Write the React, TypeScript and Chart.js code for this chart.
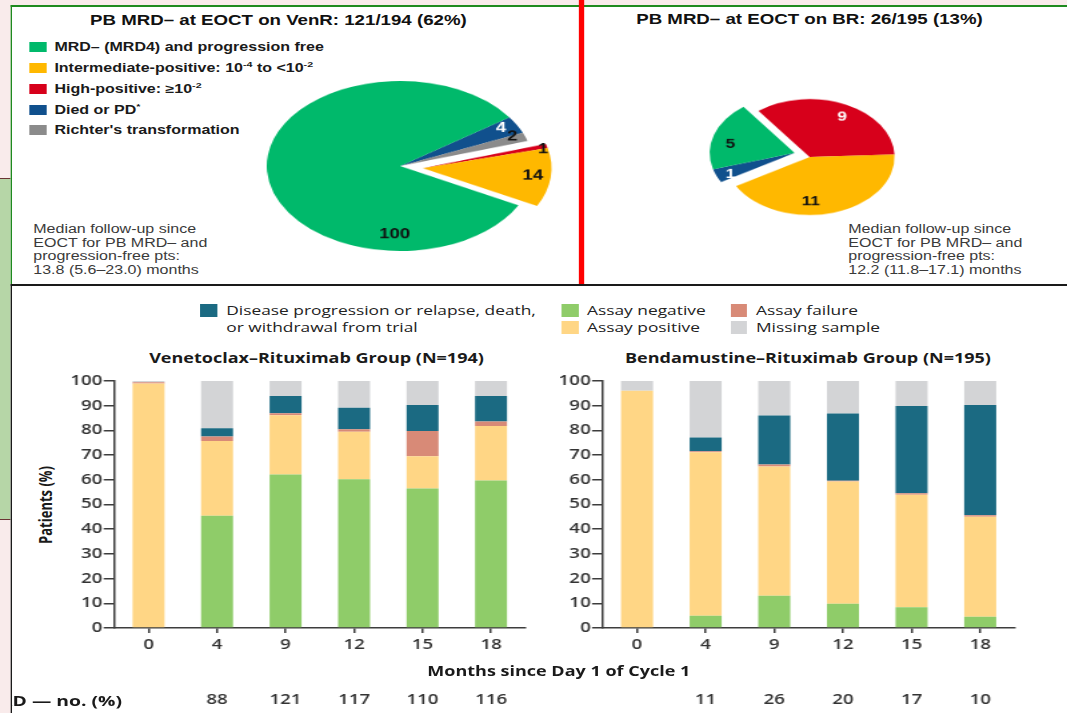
import React, { useEffect, useRef } from 'react';
import { Chart, registerables } from 'chart.js';

Chart.register(...registerables);

// The reference is a 4:3 slide stretched to 16:9, so the scene is built 800px wide and stretched.
const SX = 1067 / 800;
const X = (v: number) => v / SX;

const ARIAL = '"Liberation Sans", Arial, sans-serif';
const SANS = '"Open Sans", "Noto Sans", sans-serif';
const PINK = '#f9ebeb';

// ---------- top: pie charts ----------
const VENR_SLICES = ['Died or PD*', "Richter's transformation", 'High-positive', 'Intermediate-positive', 'MRD– (MRD4) and progression free'];
const VENR_VALUES = [4, 2, 1, 14, 100];
const VENR_COLORS = ['#10508d', '#8b8b8b', '#d7001b', '#ffb800', '#00b96b'];
const VENR_EXPLODED = [false, false, true, true, false];
const VENR_LABEL_FRAC = [0.36, 0.15, 1.2, 0.49, 0.22];
const VENR_LABEL_RADIUS = [0.88, 0.91, 0.96, 0.86, 0.81];
const VENR_LABEL_COLOR = ['#ffffff', '#111111', '#111111', '#111111', '#111111'];

const BR_SLICES = ['High-positive', 'Intermediate-positive', 'Died or PD*', 'MRD– (MRD4) and progression free'];
const BR_VALUES = [9, 11, 1, 5];
const BR_COLORS = ['#d7001b', '#ffb800', '#10508d', '#00b96b'];
const BR_EXPLODED = [false, false, true, true];
const BR_LABEL_FRAC = [0.53, 0.6, 0.3, 0.4];
const BR_LABEL_RADIUS = [0.79, 0.77, 0.84, 0.77];
const BR_LABEL_COLOR = ['#ffffff', '#111111', '#ffffff', '#111111'];

// ---------- bottom: stacked bars ----------
const MONTHS = ['0', '4', '9', '12', '15', '18'];

const VEN_NEGATIVE = [0, 45.4, 62.1, 60.2, 56.5, 59.7];
const VEN_POSITIVE = [99.0, 30.3, 24.0, 19.3, 13.0, 22.1];
const VEN_FAILURE = [0.5, 1.8, 0.8, 1.0, 10.3, 1.8];
const VEN_PROGRESSION = [0, 3.4, 7.0, 8.7, 10.5, 10.3];
const VEN_MISSING = [0.5, 19.1, 6.1, 10.8, 9.7, 6.1];
const VEN_MRD_NO = [null, 88, 121, 117, 110, 116];

const BEN_NEGATIVE = [0, 5.0, 13.1, 9.8, 8.4, 4.6];
const BEN_POSITIVE = [96.1, 66.2, 52.3, 49.5, 45.5, 40.4];
const BEN_FAILURE = [0, 0.4, 0.8, 0.3, 0.7, 0.6];
const BEN_PROGRESSION = [0, 5.5, 19.8, 27.2, 35.3, 44.7];
const BEN_MISSING = [3.9, 22.9, 14.0, 13.2, 10.1, 9.7];
const BEN_MRD_NO = [null, 11, 26, 20, 17, 10];

const C_PD = '#1b6a82';
const C_NEG = '#8fcc69';
const C_FAIL = '#d88a77';
const C_POS = '#ffd685';
const C_MISS = '#d3d4d6';
const AXIS = '#3d3d3d';

type PieProps = {
  labels: string[]; values: number[]; colors: string[]; visible: boolean[];
  rotation: number; radius: number; size: number; shiftX: number; shiftY: number;
  labelFrac: number[]; labelRadius: number[]; labelColor: string[]; labelFont: string;
  squash: number; cx: number; cy: number;
};

function PieLayer(p: PieProps) {
  const ref = useRef<HTMLCanvasElement>(null);
  useEffect(() => {
    const labelPlugin = {
      id: 'sliceLabels',
      afterDatasetsDraw(chart: any) {
        const ctx = chart.ctx;
        chart.getDatasetMeta(0).data.forEach((arc: any, i: number) => {
          if (!p.visible[i]) return;
          const { x, y, startAngle, endAngle, outerRadius } = arc.getProps(['x', 'y', 'startAngle', 'endAngle', 'outerRadius'], true);
          const a = startAngle + p.labelFrac[i] * (endAngle - startAngle);
          const r = p.labelRadius[i] * outerRadius;
          ctx.save();
          ctx.translate(x + Math.cos(a) * r, y + Math.sin(a) * r);
          ctx.scale(1, 1 / p.squash);
          ctx.font = p.labelFont;
          ctx.fillStyle = p.labelColor[i];
          ctx.textAlign = 'center';
          ctx.textBaseline = 'middle';
          ctx.fillText(String(p.values[i]), 0, 0);
          ctx.restore();
        });
      },
    };
    const chart = new Chart(ref.current as HTMLCanvasElement, {
      type: 'pie',
      data: {
        labels: p.labels,
        datasets: [{
          data: p.values,
          backgroundColor: p.colors.map((c, i) => (p.visible[i] ? c : 'rgba(0,0,0,0)')),
          borderWidth: 0,
          radius: p.radius,
        } as any],
      },
      options: {
        responsive: false,
        animation: false,
        rotation: p.rotation,
        events: [],
        layout: {
          padding: {
            left: Math.max(0, 2 * p.shiftX), right: Math.max(0, -2 * p.shiftX),
            top: Math.max(0, 2 * p.shiftY), bottom: Math.max(0, -2 * p.shiftY),
          },
        },
        plugins: { legend: { display: false }, tooltip: { enabled: false } },
      } as any,
      plugins: [labelPlugin],
    });
    return () => chart.destroy();
  }, []);
  return (
    <canvas
      ref={ref}
      width={p.size}
      height={p.size}
      style={{
        position: 'absolute', left: p.cx - p.size / 2, top: p.cy - p.size / 2,
        width: p.size, height: p.size, transform: `scaleY(${p.squash})`, transformOrigin: '50% 50%',
      }}
    />
  );
}

type BarProps = {
  left: number; width: number; yWidth: number; padRight: number;
  negative: number[]; positive: number[]; failure: number[]; progression: number[]; missing: number[];
  counts: (number | null)[];
};

function StackedBars(p: BarProps) {
  const ref = useRef<HTMLCanvasElement>(null);
  useEffect(() => {
    const tickFont = { family: SANS, size: 14, weight: '600' as any };
    const common = { barPercentage: 0.467, categoryPercentage: 1, borderWidth: 0, stack: 's' };
    const chart = new Chart(ref.current as HTMLCanvasElement, {
      type: 'bar',
      data: {
        labels: MONTHS,
        datasets: [
          { label: 'Assay negative', data: p.negative, backgroundColor: C_NEG, ...common },
          { label: 'Assay positive', data: p.positive, backgroundColor: C_POS, ...common },
          { label: 'Assay failure', data: p.failure, backgroundColor: C_FAIL, ...common },
          { label: 'Disease progression or relapse, death, or withdrawal from trial', data: p.progression, backgroundColor: C_PD, ...common },
          { label: 'Missing sample', data: p.missing, backgroundColor: C_MISS, ...common },
        ],
      },
      options: {
        responsive: false,
        animation: false,
        events: [],
        layout: { padding: { top: 11, right: p.padRight, left: 0, bottom: 0 } },
        plugins: { legend: { display: false }, tooltip: { enabled: false } },
        scales: {
          x: {
            stacked: true,
            offset: true,
            grid: { display: true, drawOnChartArea: false, offset: false, tickLength: 5, color: AXIS, lineWidth: 1.5 },
            border: { color: AXIS, width: 1.5 },
            ticks: {
              color: '#333',
              font: { ...tickFont, lineHeight: '27.5px' },
              padding: -1.5,
              maxRotation: 0,
              autoSkip: false,
              callback: (_v: any, i: number) => [MONTHS[i], '', p.counts[i] == null ? '' : String(p.counts[i])],
            },
            afterFit: (s: any) => { s.height = 85; },
          },
          y: {
            stacked: true,
            min: 0,
            max: 100,
            grid: { display: true, drawOnChartArea: false, tickLength: 8, color: AXIS, lineWidth: 1.5 },
            border: { color: AXIS, width: 1.5 },
            ticks: { stepSize: 10, padding: 1, color: '#333', font: tickFont },
            afterFit: (s: any) => { s.width = p.yWidth; },
          },
        },
      } as any,
    });
    return () => chart.destroy();
  }, []);
  return (
    <canvas ref={ref} width={p.width} height={343}
      style={{ position: 'absolute', left: p.left, top: 370, width: p.width, height: 343 }} />
  );
}

const abs = (left: number, top: number, extra: React.CSSProperties = {}): React.CSSProperties => ({
  position: 'absolute', left, top, whiteSpace: 'nowrap', ...extra,
});

const sup: React.CSSProperties = { fontSize: 8, verticalAlign: 'super', lineHeight: 0 };

const TOP_LEGEND: { color: string; text: React.ReactNode }[] = [
  { color: '#00b96b', text: 'MRD– (MRD4) and progression free' },
  { color: '#ffb800', text: <>Intermediate-positive: 10<span style={sup}>-4</span> to &lt;10<span style={sup}>-2</span></> },
  { color: '#d7001b', text: <>High-positive: ≥10<span style={sup}>-2</span></> },
  { color: '#10508d', text: <>Died or PD<span style={sup}>*</span></> },
  { color: '#8b8b8b', text: "Richter's transformation" },
];
const TOP_LEGEND_Y = [46.7, 67.7, 88.7, 110, 130.3];

function Median({ x, lines }: { x: number; lines: string[] }) {
  return (
    <div style={abs(X(x), 223, { font: `12px ${ARIAL}`, lineHeight: '13.5px', color: '#3a3a3a' })}>
      {lines.map((l, i) => <div key={i}>{l}</div>)}
    </div>
  );
}

function LegendSwatch({ x, y, color, text }: { x: number; y: number; color: string; text: React.ReactNode }) {
  return (
    <>
      <div style={abs(X(x), y - 6.5, { width: X(17), height: 13, background: color })} />
      <div style={abs(X(x + 25.5), y - 9, { font: `13px ${SANS}`, lineHeight: '18px', color: '#222' })}>{text}</div>
    </>
  );
}

export default function App() {
  useEffect(() => { document.body.style.margin = '0'; }, []);
  return (
    <div style={{ position: 'fixed', left: 0, top: 0, width: 800, height: 713, transform: `scaleX(${SX})`, transformOrigin: '0 0', background: PINK, overflow: 'hidden' }}>
      {/* left decorative strip */}
      <div style={abs(0, 178, { width: X(11), height: 342, background: '#b6d6a7', borderTop: '1px solid #6b3434', borderBottom: '1px solid #6b3434', boxSizing: 'border-box' })} />

      {/* top panel */}
      <div style={abs(X(11), 5, { width: 800 - X(11), height: 279, background: '#fff', borderTop: '2px solid #1f8a1f', borderLeft: `${X(2)}px solid #1f8a1f`, boxSizing: 'border-box' })} />
      <div style={abs(X(579.3), 0, { width: X(5), height: 284, background: '#ff0000' })} />

      <div style={abs(X(278.4), 11, { transform: 'translateX(-50%)', font: `bold 14px ${ARIAL}`, lineHeight: '18px', color: '#111' })}>
        PB MRD– at EOCT on VenR: 121/194 (62%)
      </div>
      <div style={abs(X(809.5), 10, { transform: 'translateX(-50%)', font: `bold 14px ${ARIAL}`, lineHeight: '18px', color: '#111' })}>
        PB MRD– at EOCT on BR: 26/195 (13%)
      </div>

      {TOP_LEGEND.map((it, i) => (
        <React.Fragment key={i}>
          <div style={abs(X(29.6), TOP_LEGEND_Y[i] - 5, { width: X(16.6), height: 10, background: it.color })} />
          <div style={abs(X(54.4), TOP_LEGEND_Y[i] - 8, { font: `bold 12px ${ARIAL}`, lineHeight: '16px', color: '#1a1a1a' })}>{it.text}</div>
        </React.Fragment>
      ))}

      <Median x={33.3} lines={['Median  follow-up  since', 'EOCT for PB MRD– and', 'progression-free pts:', '13.8 (5.6–23.0) months']} />
      <Median x={848.3} lines={['Median  follow-up  since', 'EOCT for PB MRD– and', 'progression-free pts:', '12.2 (11.8–17.1) months']} />

      {/* VenR pie: body + exploded slices */}
      <PieLayer labels={VENR_SLICES} values={VENR_VALUES} colors={VENR_COLORS} visible={VENR_EXPLODED.map(e => !e)}
        rotation={55} radius={100} size={260} shiftX={0} shiftY={0}
        labelFrac={VENR_LABEL_FRAC} labelRadius={VENR_LABEL_RADIUS} labelColor={VENR_LABEL_COLOR}
        labelFont={`bold 14px ${ARIAL}`} squash={0.85} cx={X(399.5)} cy={166} />
      <PieLayer labels={VENR_SLICES} values={VENR_VALUES} colors={VENR_COLORS} visible={VENR_EXPLODED}
        rotation={55} radius={96.5} size={260} shiftX={17} shiftY={2.5}
        labelFrac={VENR_LABEL_FRAC} labelRadius={VENR_LABEL_RADIUS} labelColor={VENR_LABEL_COLOR}
        labelFont={`bold 14px ${ARIAL}`} squash={0.85} cx={X(399.5)} cy={166} />

      {/* BR pie */}
      <PieLayer labels={BR_SLICES} values={BR_VALUES} colors={BR_COLORS} visible={BR_EXPLODED.map(e => !e)}
        rotation={-37} radius={63.7} size={180} shiftX={0} shiftY={0}
        labelFrac={BR_LABEL_FRAC} labelRadius={BR_LABEL_RADIUS} labelColor={BR_LABEL_COLOR}
        labelFont={`bold 13px ${ARIAL}`} squash={0.91} cx={X(810)} cy={157} />
      <PieLayer labels={BR_SLICES} values={BR_VALUES} colors={BR_COLORS} visible={BR_EXPLODED}
        rotation={-37} radius={63.7} size={180} shiftX={-11.2} shiftY={-4.4}
        labelFrac={BR_LABEL_FRAC} labelRadius={BR_LABEL_RADIUS} labelColor={BR_LABEL_COLOR}
        labelFont={`bold 13px ${ARIAL}`} squash={0.91} cx={X(810)} cy={157} />

      {/* bottom panel */}
      <div style={abs(X(11), 284, { width: 800 - X(11), height: 429, background: '#fff', borderTop: '2.5px solid #1a1a1a', borderLeft: `${X(2)}px solid #1a1a1a`, boxSizing: 'border-box' })} />

      <LegendSwatch x={200.7} y={310} color={C_PD} text="Disease progression or relapse, death," />
      <div style={abs(X(226.2), 318, { font: `13px ${SANS}`, lineHeight: '18px', color: '#222' })}>or withdrawal from trial</div>
      <LegendSwatch x={561.5} y={310} color={C_NEG} text="Assay negative" />
      <LegendSwatch x={561.5} y={327} color={C_POS} text="Assay positive" />
      <LegendSwatch x={730.5} y={310} color={C_FAIL} text="Assay failure" />
      <LegendSwatch x={730.5} y={327} color={C_MISS} text="Missing sample" />

      <div style={abs(X(316.5), 349, { transform: 'translateX(-50%)', font: `bold 13.5px ${SANS}`, lineHeight: '18px', color: '#1a1a1a' })}>
        Venetoclax–Rituximab Group (N=194)
      </div>
      <div style={abs(X(808), 349, { transform: 'translateX(-50%)', font: `bold 13.5px ${SANS}`, lineHeight: '18px', color: '#1a1a1a' })}>
        Bendamustine–Rituximab Group (N=195)
      </div>

      <div style={abs(X(45), 505, { transform: 'translate(-50%, -50%) rotate(-90deg)', font: `bold 13px ${SANS}`, lineHeight: '18px', color: '#1a1a1a' })}>
        Patients (%)
      </div>

      <StackedBars left={50} width={360} yWidth={X(114.3) - 50} padRight={410 - X(525.3)}
        negative={VEN_NEGATIVE} positive={VEN_POSITIVE} failure={VEN_FAILURE} progression={VEN_PROGRESSION} missing={VEN_MISSING} counts={VEN_MRD_NO} />
      <StackedBars left={420} width={360} yWidth={X(602.7) - 420} padRight={780 - X(1014.5)}
        negative={BEN_NEGATIVE} positive={BEN_POSITIVE} failure={BEN_FAILURE} progression={BEN_PROGRESSION} missing={BEN_MISSING} counts={BEN_MRD_NO} />

      <div style={abs(X(558.8), 662, { transform: 'translateX(-50%)', font: `bold 13.5px ${SANS}`, lineHeight: '18px', color: '#1a1a1a' })}>
        Months since Day 1 of Cycle 1
      </div>

      <div style={abs(X(12.5), 691, { width: X(125) - X(12.5), height: 20, overflow: 'hidden' })}>
        <div style={{ position: 'absolute', right: X(125) - X(122), top: 0, whiteSpace: 'nowrap', font: `bold 14.5px ${SANS}`, lineHeight: '20px', color: '#1a1a1a' }}>
          MRD — no. (%)
        </div>
      </div>
    </div>
  );
}
